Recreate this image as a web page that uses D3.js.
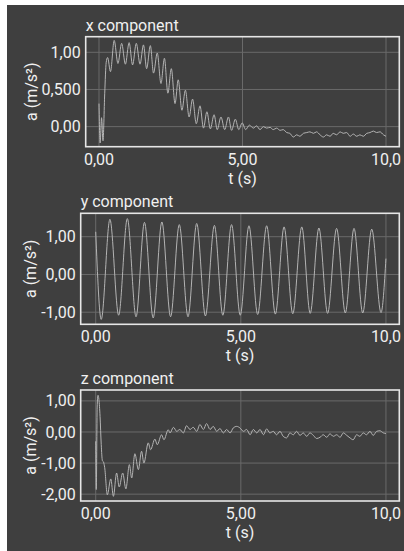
<!DOCTYPE html>
<html>
<head>
<meta charset="utf-8">
<script src="https://cdn.jsdelivr.net/npm/d3@7"></script>
<style>
	html, body { margin: 0; padding: 0; background: #fff; }
	svg { display: block; font-family: Roboto, "Noto Sans", sans-serif; }
</style>
</head>
<body>
<svg id="chart" width="404" height="551"></svg>
<script>
// x component: acceleration samples (t in s, a in m/s²)
var xT = [0.00, 0.04, 0.09, 0.14, 0.20, 0.25, 0.30, 0.40, 0.53, 0.66, 0.79, 0.92, 1.05, 1.17, 1.30, 1.43,
	1.55, 1.66, 1.79, 1.90, 2.03, 2.16, 2.28, 2.40, 2.52, 2.65, 2.76, 2.89, 3.01, 3.14, 3.26, 3.39,
	3.52, 3.64, 3.76, 3.88, 4.01, 4.12, 4.25, 4.38, 4.51, 4.62, 4.75, 4.87, 4.99, 5.11, 5.24, 5.38,
	5.49, 5.61, 5.73, 5.84, 5.96, 6.07, 6.19, 6.31, 6.42, 6.54, 6.65, 6.77, 6.89, 7.00, 7.12, 7.24,
	7.35, 7.47, 7.58, 7.70, 7.82, 7.93, 8.05, 8.16, 8.28, 8.40, 8.51, 8.63, 8.75, 8.86, 8.98, 9.09,
	9.21, 9.33, 9.44, 9.56, 9.67, 9.79, 9.91, 10.0];
var xA = [0.31, -0.22, 0.12, -0.19, 0.45, 0.86, 0.93, 0.74, 1.16, 0.85, 1.12, 0.84, 1.13, 0.83, 1.12, 0.84,
	1.10, 0.78, 1.09, 0.72, 0.99, 0.58, 0.92, 0.45, 0.78, 0.31, 0.63, 0.22, 0.49, 0.13, 0.37, 0.04,
	0.28, -0.02, 0.20, -0.03, 0.16, -0.04, 0.13, -0.04, 0.13, -0.05, 0.10, -0.04, 0.05, -0.04, 0.02, -0.02,
	0.01, -0.04, 0.00, -0.02, -0.01, -0.04, -0.02, -0.05, -0.04, -0.08, -0.09, -0.14, -0.11, -0.13, -0.09, -0.08,
	-0.07, -0.09, -0.07, -0.11, -0.14, -0.11, -0.13, -0.09, -0.11, -0.07, -0.09, -0.08, -0.13, -0.10, -0.13, -0.11,
	-0.13, -0.09, -0.08, -0.06, -0.08, -0.07, -0.11, -0.13];

// y component
var yT = [0.00, 0.19, 0.49, 0.79, 1.09, 1.39, 1.68, 1.98, 2.28, 2.58, 2.88, 3.18, 3.48, 3.78, 4.09, 4.38,
	4.68, 4.98, 5.28, 5.58, 5.89, 6.19, 6.49, 6.79, 7.10, 7.39, 7.69, 7.99, 8.30, 8.60, 8.90, 9.20,
	9.51, 9.83, 10.0];
var yA = [1.13, -1.19, 1.46, -1.08, 1.48, -1.12, 1.38, -1.15, 1.39, -1.12, 1.32, -1.12, 1.35, -1.10, 1.30, -1.08,
	1.32, -1.08, 1.29, -1.06, 1.29, -1.05, 1.26, -1.04, 1.26, -1.03, 1.23, -1.03, 1.22, -1.02, 1.22, -1.02,
	1.20, -1.01, 0.42];

// z component
var zT = [0.00, 0.02, 0.05, 0.08, 0.11, 0.15, 0.19, 0.23, 0.27, 0.31, 0.40, 0.52, 0.61, 0.72, 0.81, 0.93,
	1.04, 1.16, 1.24, 1.35, 1.47, 1.58, 1.66, 1.81, 1.89, 2.04, 2.12, 2.27, 2.35, 2.50, 2.56, 2.68,
	2.79, 2.90, 3.02, 3.13, 3.25, 3.36, 3.48, 3.59, 3.71, 3.82, 3.94, 4.05, 4.17, 4.28, 4.40, 4.51,
	4.63, 4.74, 4.86, 4.97, 5.09, 5.20, 5.32, 5.43, 5.55, 5.66, 5.78, 5.89, 6.00, 6.12, 6.23, 6.35,
	6.46, 6.58, 6.69, 6.81, 6.92, 7.04, 7.15, 7.27, 7.38, 7.50, 7.61, 7.73, 7.84, 7.96, 8.07, 8.19,
	8.30, 8.42, 8.53, 8.65, 8.76, 8.87, 8.99, 9.10, 9.22, 9.33, 9.45, 9.56, 9.68, 9.79, 9.91, 10.0];
var zA = [-0.30, -1.85, 0.80, 1.18, 1.05, 0.50, -0.40, -0.92, -0.97, -1.15, -2.02, -1.51, -2.07, -1.32, -1.77, -1.32,
	-1.83, -1.05, -1.48, -0.70, -1.21, -0.62, -1.00, -0.35, -0.57, -0.23, -0.41, -0.09, -0.25, 0.07, -0.03, 0.15,
	0.02, 0.08, -0.03, 0.20, 0.08, 0.15, 0.02, 0.24, 0.08, 0.27, 0.08, 0.18, 0.02, 0.11, -0.03, 0.08,
	-0.03, 0.13, 0.18, 0.13, 0.02, 0.08, -0.09, 0.08, -0.03, 0.08, -0.09, 0.10, -0.03, 0.02, -0.09, 0.02,
	-0.14, -0.19, -0.03, -0.09, 0.02, -0.11, -0.03, -0.14, -0.03, -0.11, -0.21, -0.17, -0.09, -0.17, -0.06, -0.14,
	-0.09, -0.17, -0.03, -0.11, -0.19, -0.25, -0.09, -0.14, -0.03, -0.09, 0.02, -0.11, 0.02, 0.04, -0.03, -0.05];

var titles = ['x component', 'y component', 'z component'];
var xTicks = [0, 5, 10];
var yTicksX = [0, 0.5, 1];
var yTicksY = [-1, 0, 1];
var yTicksZ = [-2, -1, 0, 1];
var xLabel = 't (s)';
var yLabel = 'a (m/s²)';

var locale = d3.formatLocale({decimal: ',', thousands: '.', grouping: [3], currency: ['', ''], minus: '-'});
var fmt = locale.format('.3r');

var svg = d3.select('#chart');
var textColor = '#f0f0f0';
var fontSize = 16;

// dark background, with the thin white margin on the left and top
svg.append('rect').attr('x', 7).attr('y', 5).attr('width', 397).attr('height', 546).attr('fill', '#3f3f3f');

var panels = [
	{title: titles[0], t: xT, a: xA, ticks: yTicksX, box: [85.7, 36.7, 399.3, 146.7], xd: [-0.463, 10.463], yd: [-0.27, 1.21], labelX: 37},
	{title: titles[1], t: yT, a: yA, ticks: yTicksY, box: [80.7, 213.3, 399.3, 324.3], xd: [-0.517, 10.46], yd: [-1.32, 1.62], labelX: 36},
	{title: titles[2], t: zT, a: zA, ticks: yTicksZ, box: [80.7, 390, 399.3, 501], xd: [-0.517, 10.46], yd: [-2.22, 1.35], labelX: 36}
];

panels.forEach(function(p, i) {
	var x0 = p.box[0], y0 = p.box[1], x1 = p.box[2], y1 = p.box[3];
	var x = d3.scaleLinear().domain(p.xd).range([x0, x1]);
	var y = d3.scaleLinear().domain(p.yd).range([y1, y0]);
	var g = svg.append('g');

	svg.append('clipPath').attr('id', 'clip' + i)
		.append('rect').attr('x', x0).attr('y', y0).attr('width', x1 - x0).attr('height', y1 - y0);

	// grid
	g.selectAll('line.vg').data(xTicks).enter().append('line')
		.attr('x1', function(d){return x(d);}).attr('x2', function(d){return x(d);})
		.attr('y1', y0).attr('y2', y1)
		.attr('stroke', '#6a6a6a').attr('stroke-width', 1);
	g.selectAll('line.hg').data(p.ticks).enter().append('line')
		.attr('y1', function(d){return y(d);}).attr('y2', function(d){return y(d);})
		.attr('x1', x0).attr('x2', x1)
		.attr('stroke', '#6a6a6a').attr('stroke-width', 1);

	// data line
	var pts = p.t.map(function(t, k){return [t, p.a[k]];});
	var line = d3.line()
		.x(function(d){return x(d[0]);})
		.y(function(d){return y(d[1]);})
		.curve(d3.curveMonotoneX);
	g.append('path')
		.attr('d', line(pts))
		.attr('clip-path', 'url(#clip' + i + ')')
		.attr('fill', 'none')
		.attr('stroke', '#b4b4b4')
		.attr('stroke-width', 1)
		.attr('stroke-linejoin', 'round');

	// frame
	g.append('rect')
		.attr('x', x0).attr('y', y0).attr('width', x1 - x0).attr('height', y1 - y0)
		.attr('fill', 'none').attr('stroke', '#e6e6e6').attr('stroke-width', 1.6);

	// tick labels
	g.selectAll('text.xt').data(xTicks).enter().append('text')
		.attr('x', function(d){return x(d);}).attr('y', y1 + 18)
		.attr('text-anchor', 'middle')
		.attr('fill', textColor).attr('font-size', fontSize)
		.text(function(d){return fmt(d);});
	g.selectAll('text.yt').data(p.ticks).enter().append('text')
		.attr('x', x0 - 5).attr('y', function(d){return y(d);})
		.attr('dy', '0.35em')
		.attr('text-anchor', 'end')
		.attr('fill', textColor).attr('font-size', fontSize)
		.text(function(d){return fmt(d);});

	// titles and axis labels
	g.append('text').attr('x', x0).attr('y', y0 - 6)
		.attr('fill', textColor).attr('font-size', fontSize).text(p.title);
	g.append('text').attr('x', (x0 + x1) / 2).attr('y', y1 + 37)
		.attr('text-anchor', 'middle')
		.attr('fill', textColor).attr('font-size', fontSize).text(xLabel);
	g.append('text')
		.attr('transform', 'translate(' + p.labelX + ',' + ((y0 + y1) / 2) + ') rotate(-90)')
		.attr('text-anchor', 'middle')
		.attr('fill', textColor).attr('font-size', fontSize).text(yLabel);
});
</script>
</body>
</html>
